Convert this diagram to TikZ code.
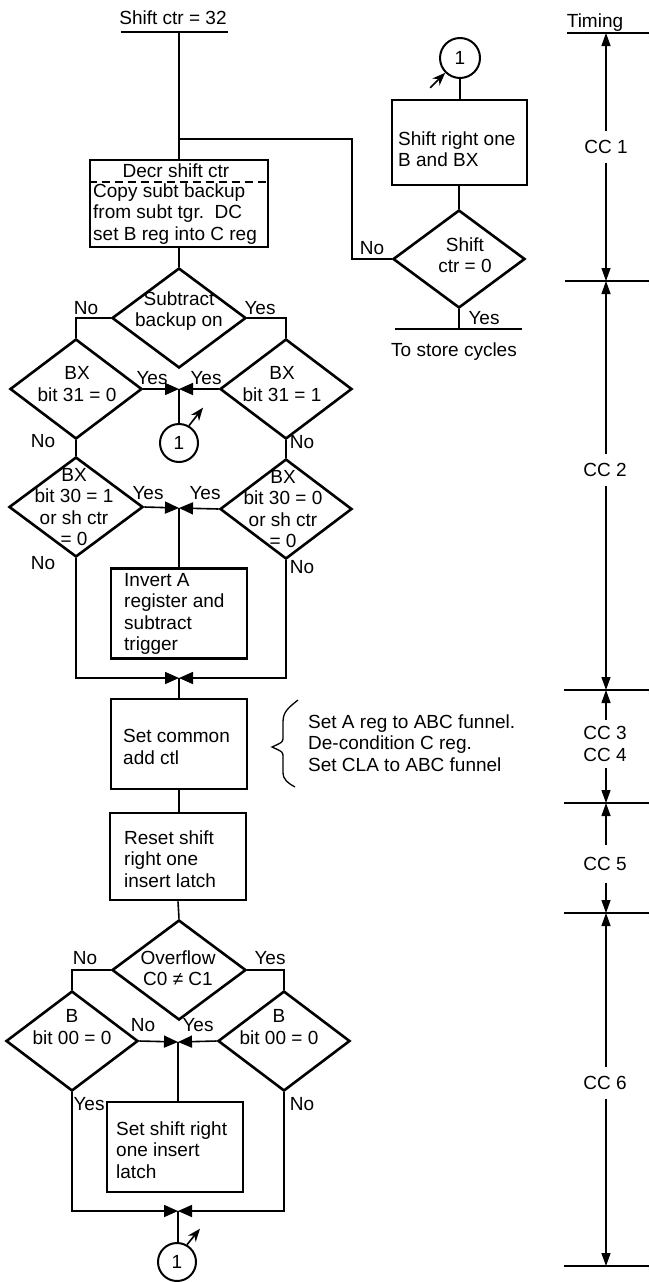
\documentclass[tikz,border=0pt]{standalone}
\usepackage{fontspec}
\setmainfont{Liberation Sans}
\usetikzlibrary{shapes.geometric,arrows.meta,calc}
\begin{document}
\begin{tikzpicture}[x=1pt,y=-1pt,
  every node/.style={font=\fontsize{19}{21.5}\selectfont, inner sep=0pt},
  box/.style={draw, line width=2.6pt, minimum width=136pt, minimum height=90pt},
  dia/.style={draw, diamond, line width=2.6pt, minimum width=134pt, minimum height=100pt},
  conn/.style={line width=1.6pt},
  bow/.style={conn, -{Triangle[length=14pt,width=12pt]}},
  small/.style={conn, -{Stealth[length=13pt,width=10pt]}},
  con/.style={draw, circle, line width=2pt, minimum size=38pt},
  txt/.style={align=left, anchor=west},
  ctr/.style={align=center},
  tline/.style={line width=2.2pt},
  tarr/.style={line width=1.3pt, -{Triangle[length=13pt,width=9pt]}},
  cc/.style={align=center, outer sep=9pt}
]
\useasboundingbox (0,0) rectangle (649,1282);
\fill[white] (0,0) rectangle (649,1282);

% ---------- left column ----------
\node (title) at (173,18) {Shift ctr = 32};
\coordinate (tl) at (121,32);
\coordinate (tr) at (228,32);
\draw[line width=2pt] (tl) -- (tr);
\coordinate (start) at (179,32);
\coordinate (br) at (179,139);

\node[box, minimum width=178pt, minimum height=87pt] (bDecr) at (179,203.5) {};
\draw[line width=1.6pt, dash pattern=on 8pt off 5pt] (bDecr.west |- 0,182) -- (bDecr.east |- 0,182);
\node (decrT) at (176,171) {Decr shift ctr};
\node[txt] (decrB) at (93,214) {Copy subt backup\\from subt tgr.~~DC\\set B reg into C reg};

\node[dia] (dSub) at (179,318) {};
\node[ctr] (tSub) at (179,311) {Subtract\\backup on};

\node[dia, minimum width=132pt] (dB31L) at (76,389) {};
\node[ctr] (tB31L) at (77,384) {BX\\bit 31 = 0};
\node[dia, minimum width=132pt] (dB31R) at (286,389) {};
\node[ctr] (tB31R) at (282,384) {BX\\bit 31 = 1};

\coordinate (j1) at (179,389);
\node[con] (c2) at (179,443) {1};

\node[dia] (dB30L) at (76,507) {};
\node[ctr] (tB30L) at (74,507) {BX\\bit 30 = 1\\or sh ctr\\= 0};
\node[dia, minimum width=132pt] (dB30R) at (286,509) {};
\node[ctr] (tB30R) at (283,509) {BX\\bit 30 = 0\\or sh ctr\\= 0};

\coordinate (j2) at (179,508);
\node[box] (bInv) at (179,613.5) {};
\node[txt] (tInv) at (124,614) {Invert A\\register and\\subtract\\trigger};

\coordinate (j3) at (179,678);
\node[box] (bCommon) at (179,744) {};
\node[txt] (tCommon) at (123,747) {Set common\\add ctl};

\node[box, minimum height=87pt] (bReset) at (178,856.5) {};
\node[txt] (tReset) at (124,859) {Reset shift\\right one\\insert latch};

\node[dia] (dOvf) at (179,970) {};
\node[ctr] (tOvf) at (178,968) {Overflow\\C0 ≠ C1};

\node[dia, minimum width=132pt] (dB00L) at (72,1041) {};
\node[ctr] (tB00L) at (72,1027) {B\\bit 00 = 0};
\node[dia, minimum width=132pt] (dB00R) at (284,1041) {};
\node[ctr] (tB00R) at (279,1027) {B\\bit 00 = 0};

\coordinate (j4) at (178,1042);
\node[box] (bSet) at (175,1147) {};
\node[txt] (tSet) at (116,1150) {Set shift right\\one insert\\latch};

\coordinate (j5) at (178,1211);
\node[con] (c3) at (177,1262) {1};

% labels
\node (l1) at (86,308) {No};
\node (l2) at (260,308) {Yes};
\node (l3) at (152,378) {Yes};
\node (l4) at (206,378) {Yes};
\node (l5) at (43,441) {No};
\node (l6) at (302,442) {No};
\node (l7) at (148,493) {Yes};
\node (l8) at (205,493) {Yes};
\node (l9) at (43,563) {No};
\node (l10) at (302,567) {No};
\node (l11) at (85,958) {No};
\node (l12) at (270,958) {Yes};
\node (l13) at (143,1025) {No};
\node (l14) at (198,1025) {Yes};
\node (l15) at (89,1104) {Yes};
\node (l16) at (302,1104) {No};

% connectors left
\draw[conn] (start) -- (bDecr.north);
\draw[conn] (bDecr.south) -- (dSub.north);
\draw[conn] (dSub.west) -| (dB31L.north);
\draw[conn] (dSub.east) -| (dB31R.north);
\draw[bow] (dB31L.east) -- (j1);
\draw[bow] (dB31R.west) -- (j1);
\draw[conn] (j1) -- (c2.north);
\draw[small] (c2.60) -- ++(14,-18);
\draw[conn] (dB31L.south) -- (dB30L.north);
\draw[conn] (dB31R.south) -- (dB30R.north);
\draw[bow] (dB30L.east) -- (j2);
\draw[bow] (dB30R.west) -- (j2);
\draw[conn] (j2) -- (bInv.north);
\draw[bow] (dB30L.south) |- (j3);
\draw[bow] (dB30R.south) |- (j3);
\draw[conn] (j3) -- (bCommon.north);
\draw[conn] (bCommon.south) -- (bCommon.south |- bReset.north);
\draw[conn] (bReset.south) -- (dOvf.north);
\draw[conn] (dOvf.west) -| (dB00L.north);
\draw[conn] (dOvf.east) -| (dB00R.north);
\draw[bow] (dB00L.east) -- (j4);
\draw[bow] (dB00R.west) -- (j4);
\draw[conn] (j4) -- (j4 |- bSet.north);
\draw[bow] (dB00L.south) |- (j5);
\draw[bow] (dB00R.south) |- (j5);
\draw[conn] (j5) -- (j5 |- c3.north);
\draw[small] (c3.60) -- ++(13,-16);

% brace
\coordinate (bz1) at (298,700);
\coordinate (bz2) at (272,747);
\coordinate (bz3) at (295,787);
\draw[line width=1.3pt] (bz1) .. controls (288,708) and (283,712) .. (283,722) -- (283,737)
  .. controls (283,742) .. (bz2) .. controls (283,752) .. (283,757) -- (283,772)
  .. controls (283,780) and (288,783) .. (bz3);
\node[txt] (note) at (308,743) {Set A reg to ABC funnel.\\De-condition C reg.\\Set CLA to ABC funnel};

% ---------- right column ----------
\node[con, minimum size=40pt] (c1) at (460,58) {1};
\draw[small] ($(c1.225)+(-15,15)$) -- (c1.225);
\node[box, minimum width=135pt, minimum height=85pt] (bShiftR) at (459.5,142.5) {};
\node[txt] (tShiftR) at (398,149) {Shift right one\\B and BX};
\node[dia, minimum width=132pt, minimum height=98pt] (dShift) at (459,259) {};
\node[ctr] (tShift) at (465,255) {Shift\\ctr = 0};
\draw[conn] (c1.south) -- (c1.south |- bShiftR.north);
\draw[conn] (dShift.north |- bShiftR.south) -- (dShift.north);
\draw[conn] (br) -- (352,139) |- (dShift.west);
\node (lNo) at (372,248) {No};
\coordinate (sb) at (459,329);
\draw[conn] (dShift.south) -- (sb);
\draw[line width=2pt] (395,329) -- (522,329);
\node (lYes) at (484,318) {Yes};
\node (store) at (454,352) {To store cycles};

% ---------- timing ----------
\node (timing) at (595,23) {Timing};
\coordinate (t0) at (606,33);
\coordinate (t1) at (606,281);
\coordinate (t2) at (606,690);
\coordinate (t3) at (606,803);
\coordinate (t4) at (606,913);
\coordinate (t5) at (606,1266);
\draw[tline] (567,33) -- (649,33);
\draw[tline] (565,281) -- (649,281);
\draw[tline] (564,690) -- (649,690);
\draw[tline] (564,803) -- (649,803);
\draw[tline] (564,913) -- (649,913);
\draw[tline] (564,1266) -- (649,1266);
\node[cc] (cc1) at (606,147) {CC 1};
\node[cc] (cc2) at (605,470) {CC 2};
\node[cc, outer sep=7pt] (cc34) at (605,744) {CC 3\\CC 4};
\node[cc, outer sep=12pt] (cc5) at (605,864) {CC 5};
\node[cc] (cc6) at (605,1083) {CC 6};
\draw[tarr] (t0 |- cc1.north) -- (t0);
\draw[tarr] (t1 |- cc1.south) -- (t1);
\draw[tarr] (t1 |- cc2.north) -- (t1);
\draw[tarr] (t2 |- cc2.south) -- (t2);
\draw[tarr] (t2 |- cc34.north) -- (t2);
\draw[tarr] (t3 |- cc34.south) -- (t3);
\draw[tarr] (t3 |- cc5.north) -- (t3);
\draw[tarr] (t4 |- cc5.south) -- (t4);
\draw[tarr] (t4 |- cc6.north) -- (t4);
\draw[tarr] (t5 |- cc6.south) -- (t5);
\end{tikzpicture}
\end{document}
